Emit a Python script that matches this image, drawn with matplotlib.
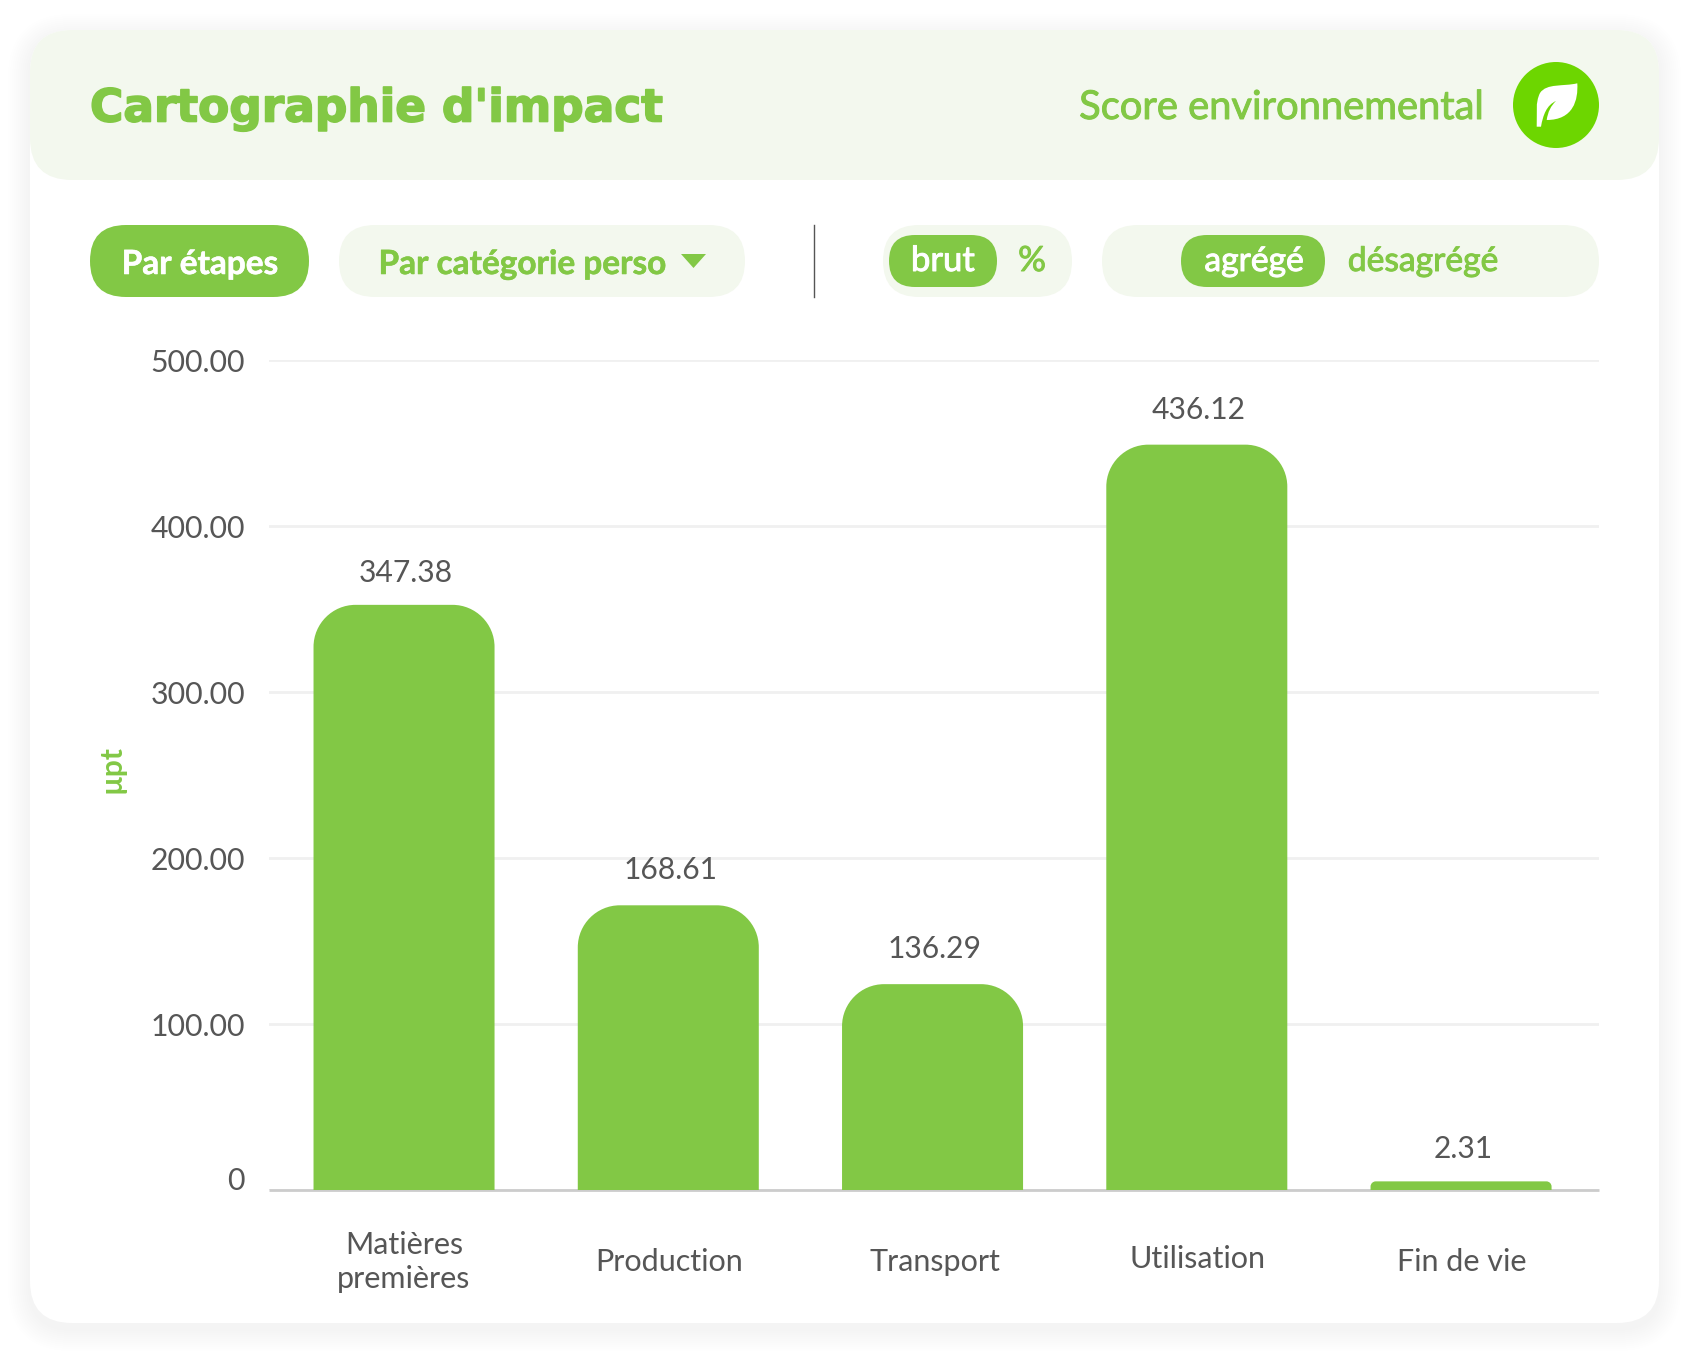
import numpy as np
import matplotlib
matplotlib.use("Agg")
import matplotlib.pyplot as plt
import matplotlib.patheffects as pe
from matplotlib.patches import FancyBboxPatch, Circle, PathPatch, Polygon
from matplotlib.path import Path
from matplotlib.transforms import ScaledTranslation

# what the chart shows
categories = ["Matières\npremières", "Production", "Transport", "Utilisation", "Fin de vie"]
value_labels = ["347.38", "168.61", "136.29", "436.12", "2.31"]
# drawn heights (they don't quite follow the printed labels)
bar_heights = [352.5, 171.5, 124, 449, 5.2]
y_ticks = [0, 100, 200, 300, 400, 500]
y_tick_labels = ["0", "100.00", "200.00", "300.00", "400.00", "500.00"]

# gap between bar top and its label, pixels
label_gaps = [23, 26, 26, 26, 23]
# small nudges of the category labels, pixels (x, y up)
cat_nudges = [(0, 0), (1, 0), (2, 0), (1, 3), (1, 0)]

W, H = 1689, 1353
GREEN = "#82C845"
PALE = "#F3F8EE"
GREY = "#565656"
PX = 72 / 100  # points per pixel at dpi 100

plt.rcParams["font.family"] = ["Lato", "DejaVu Sans"]

fig = plt.figure(figsize=(W / 100, H / 100), dpi=100, facecolor="white")

# background layer in pixel coords
bg = fig.add_axes([0, 0, 1, 1], zorder=0)
bg.set_xlim(0, W)
bg.set_ylim(H, 0)
bg.axis("off")


def pill(x0, x1, y0, y1, color, r=None, **kw):
    r = (y1 - y0) / 2 if r is None else r
    p = FancyBboxPatch((x0, y0), x1 - x0, y1 - y0, boxstyle=f"round,pad=0,rounding_size={r}",
                       facecolor=color, edgecolor="none", **kw)
    bg.add_patch(p)
    return p


def heavy(txt, amount):
    # fake a medium weight, Lato has no usable one here
    txt.set_path_effects([pe.withStroke(linewidth=amount, foreground=txt.get_color())])
    return txt


# soft card shadow
for i in range(11, 0, -1):
    pill(30 - i * 2, 1659 + i * 2, 30 - i * 2 + 6, 1323 + i * 2 + 6, "black", r=42 + i * 2, alpha=0.0028)
pill(30, 1659, 30, 1323, "white", r=42)
pill(30, 1659, 30, 180, PALE, r=42)

# header
heavy(bg.text(90, 121.5, "Cartographie d'impact", color=GREEN, fontsize=32.7, fontweight="bold",
              family="DejaVu Sans", va="baseline"), 1.2)
heavy(bg.text(1483.5, 119, "Score environnemental", color=GREEN, fontsize=28.7,
              ha="right", va="baseline"), 0.7)
bg.add_patch(Circle((1556, 105), 43, facecolor="#6DD600", edgecolor="none"))
leaf = [(1536.7, 126.7), (1537.3, 113), (1535, 103), (1540, 93),
        (1546.7, 83), (1563.3, 86.7), (1577.3, 83.3),
        (1578.3, 100), (1573.3, 120), (1546.7, 120),
        (1548.3, 108), (1556, 101),
        (1546.7, 105), (1543, 115), (1541, 126.7), (1536.7, 126.7)]
codes = [Path.MOVETO, Path.CURVE4, Path.CURVE4, Path.CURVE4, Path.CURVE4, Path.CURVE4, Path.CURVE4,
         Path.CURVE4, Path.CURVE4, Path.CURVE4, Path.CURVE3, Path.CURVE3,
         Path.CURVE4, Path.CURVE4, Path.CURVE4, Path.CLOSEPOLY]
bg.add_patch(PathPatch(Path(leaf, codes), facecolor="white", edgecolor="none"))

# controls row
pill(90, 309, 225, 297, GREEN)
heavy(bg.text(200, 274, "Par étapes", color="white", fontsize=24, fontweight="bold",
              ha="center", va="baseline"), 0.4)
pill(339, 745, 225, 297, PALE)
heavy(bg.text(522.5, 274, "Par catégorie perso", color=GREEN, fontsize=24, fontweight="bold",
              ha="center", va="baseline"), 0.4)
bg.add_patch(Polygon([(681, 254), (706, 254), (693.5, 268)], facecolor=GREEN, edgecolor="none"))
bg.plot([814, 814], [225, 297], color="#555555", lw=1)

pill(883, 1072, 225, 297, PALE)
pill(889, 997, 235, 287, GREEN)
heavy(bg.text(943, 271, "brut", color="white", fontsize=25, ha="center", va="baseline"), 0.7)
heavy(bg.text(1032, 271, "%", color=GREEN, fontsize=25, ha="center", va="baseline"), 0.7)
pill(1102, 1599, 225, 297, PALE)
pill(1181, 1325, 235, 287, GREEN)
heavy(bg.text(1254, 271, "agrégé", color="white", fontsize=24.2, ha="center", va="baseline"), 0.7)
heavy(bg.text(1423, 271, "désagrégé", color=GREEN, fontsize=24.2, ha="center", va="baseline"), 0.7)

# bar chart
ax = fig.add_axes([269 / W, 1 - 1190 / H, 1330 / W, 830 / H], zorder=1)
ax.patch.set_alpha(0)
ax.set_xlim(-0.511, 4.522)
ax.set_ylim(0, 500)

x_pos = np.arange(len(categories))
bar_w = 0.685
px_x = 5.033 / 1330  # data units per pixel
px_y = 500 / 830


def rounded_bar(x, h, radius):
    r = min(radius, h)
    rx, ry = r * px_x, r * px_y
    l, rt = x - bar_w / 2, x + bar_w / 2
    k = 0.45
    verts = [(l, 0), (l, h - ry), (l, h - ry * k), (l + rx * k, h), (l + rx, h),
             (rt - rx, h), (rt - rx * k, h), (rt, h - ry * k), (rt, h - ry), (rt, 0), (l, 0)]
    cds = [Path.MOVETO, Path.LINETO, Path.CURVE4, Path.CURVE4, Path.CURVE4,
           Path.LINETO, Path.CURVE4, Path.CURVE4, Path.CURVE4, Path.LINETO, Path.CLOSEPOLY]
    return Path(verts, cds)


for x, h, lab, gap in zip(x_pos, bar_heights, value_labels, label_gaps):
    ax.add_patch(PathPatch(rounded_bar(x, h, 42), facecolor=GREEN, edgecolor="none", zorder=3))
    ax.annotate(lab, (x, h), xytext=(2 * PX, gap * PX), textcoords="offset points",
                ha="center", va="baseline", fontsize=21.6, color=GREY)

ax.set_yticks(y_ticks, y_tick_labels)
ax.set_xticks(x_pos, categories)
ax.grid(axis="y", color="#F0F0F0", lw=2, zorder=0)
ax.set_axisbelow(True)
ax.tick_params(axis="y", length=0, pad=24 * PX, labelsize=21.8, labelcolor=GREY)
ax.tick_params(axis="x", length=0, pad=72 * PX, labelsize=22, labelcolor=GREY)
for t, (dx, dy) in zip(ax.get_xticklabels(), cat_nudges):
    t.set_va("center")
    t.set_linespacing(1.3)
    t.set_transform(t.get_transform() + ScaledTranslation(dx / 100, dy / 100, fig.dpi_scale_trans))
for t in ax.get_yticklabels():
    shift = 12 if t.get_text() == "0" else -1
    t.set_transform(t.get_transform() + ScaledTranslation(0, shift / 100, fig.dpi_scale_trans))
for s in ["top", "right", "left"]:
    ax.spines[s].set_visible(False)
ax.spines["bottom"].set_color("#CCCCCC")
ax.spines["bottom"].set_linewidth(2)
ax.spines["bottom"].set_capstyle("butt")

ax.set_ylabel("µpt", color=GREEN, fontsize=21.5, fontweight="bold", rotation=90, ha="center", va="center")
ax.yaxis.set_label_coords((112 - 269) / 1330, (1190 - 769) / 830)

fig.savefig("out.png", dpi=100, facecolor="white")
